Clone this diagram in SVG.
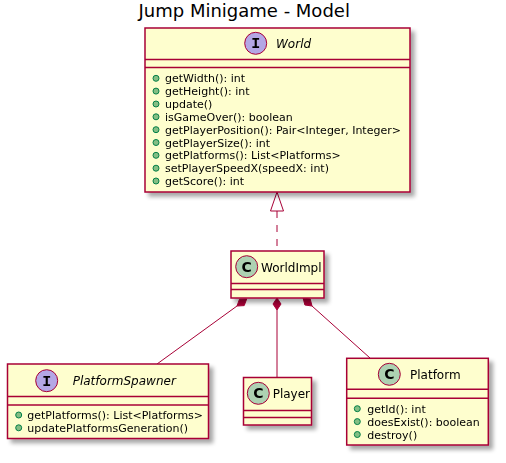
<svg xmlns="http://www.w3.org/2000/svg" width="506" height="463" viewBox="0 0 506 463">
<defs>
<filter id="sh" x="-10%" y="-10%" width="130%" height="130%">
<feGaussianBlur in="SourceAlpha" stdDeviation="2" result="b"/>
<feOffset in="b" dx="4" dy="4" result="o"/>
<feComponentTransfer in="o" result="o2"><feFuncA type="linear" slope="0.35"/></feComponentTransfer>
<feMerge><feMergeNode in="o2"/><feMergeNode in="SourceGraphic"/></feMerge>
</filter>
</defs>
<style>
.box{fill:#FEFECE;stroke:#A80036;stroke-width:1.5}
.sep{stroke:#A80036;stroke-width:1.5}
.ci{fill:#B4A7E5;stroke:#A80036;stroke-width:1}
.cc{fill:#ADD1B2;stroke:#A80036;stroke-width:1}
.glyph{font-family:"DejaVu Sans",sans-serif;font-size:14px;font-weight:bold;fill:#000;text-anchor:middle}
.glyphi{font-family:"Liberation Mono",monospace;font-size:15px;font-weight:bold;fill:#000;text-anchor:middle}
.name{font-family:"DejaVu Sans",sans-serif;font-size:12px;fill:#000}
.iname{font-family:"DejaVu Sans",sans-serif;font-size:12px;font-style:italic;fill:#000}
.m{font-family:"DejaVu Sans",sans-serif;font-size:11px;fill:#000}
.b{fill:#84BE84;stroke:#038048;stroke-width:1}
.ln{stroke:#A80036;stroke-width:1;fill:none}
.dia{fill:#A80036;stroke:#A80036;stroke-width:1}
.tri{fill:#FFFFFF;stroke:#A80036;stroke-width:1}
.title{font-family:"DejaVu Sans",sans-serif;font-size:18px;fill:#000}
</style>
<text class="title" x="138.5" y="17">Jump Minigame - Model</text>
<g id="connectors">
<line class="ln" x1="277" y1="211" x2="277" y2="251" stroke-dasharray="7,7"/>
<polygon class="tri" points="277,192 270.5,211 283.5,211"/>
<line class="ln" x1="237" y1="306" x2="157" y2="364"/>
<polygon class="dia" points="246.7,298.9 239.5,299.2 237,306 244.2,305.6"/>
<line class="ln" x1="277" y1="310" x2="277" y2="377"/>
<polygon class="dia" points="277,298 273,304 277,310 281,304"/>
<line class="ln" x1="312" y1="306" x2="370" y2="358"/>
<polygon class="dia" points="303.1,298 304.9,305 312,306 310.2,299"/>
</g>
<g id="World" filter="url(#sh)">
<rect class="box" x="145" y="28" width="265" height="164"/>
<line class="sep" x1="145" y1="59.5" x2="410" y2="59.5"/>
<line class="sep" x1="145" y1="67.5" x2="410" y2="67.5"/>
<circle class="ci" cx="255.7" cy="43.3" r="11"/>
<text class="glyphi" x="255.7" y="48.3">I</text>
<text class="iname" x="276" y="48.3">World</text>
<circle class="b" cx="156" cy="78.3" r="3"/><text class="m" x="165" y="82.3">getWidth(): int</text>
<circle class="b" cx="156" cy="91.1" r="3"/><text class="m" x="165" y="95.1">getHeight(): int</text>
<circle class="b" cx="156" cy="104" r="3"/><text class="m" x="165" y="108">update()</text>
<circle class="b" cx="156" cy="116.8" r="3"/><text class="m" x="165" y="120.8">isGameOver(): boolean</text>
<circle class="b" cx="156" cy="129.7" r="3"/><text class="m" x="165" y="133.7">getPlayerPosition(): Pair&lt;Integer, Integer&gt;</text>
<circle class="b" cx="156" cy="142.5" r="3"/><text class="m" x="165" y="146.5">getPlayerSize(): int</text>
<circle class="b" cx="156" cy="155.3" r="3"/><text class="m" x="165" y="159.3">getPlatforms(): List&lt;Platforms&gt;</text>
<circle class="b" cx="156" cy="168.2" r="3"/><text class="m" x="165" y="172.2">setPlayerSpeedX(speedX: int)</text>
<circle class="b" cx="156" cy="181" r="3"/><text class="m" x="165" y="185">getScore(): int</text>
</g>
<g id="WorldImpl" filter="url(#sh)">
<rect class="box" x="231" y="251" width="93" height="47"/>
<line class="sep" x1="231" y1="283.5" x2="324" y2="283.5"/>
<line class="sep" x1="231" y1="289.5" x2="324" y2="289.5"/>
<circle class="cc" cx="246.7" cy="266.7" r="11"/>
<text class="glyph" x="246.7" y="271.7">C</text>
<text class="name" x="261" y="272">WorldImpl</text>
</g>
<g id="PlatformSpawner" filter="url(#sh)">
<rect class="box" x="7.5" y="364" width="201" height="74.5"/>
<line class="sep" x1="7.5" y1="396.5" x2="208.5" y2="396.5"/>
<line class="sep" x1="7.5" y1="405" x2="208.5" y2="405"/>
<circle class="ci" cx="46.7" cy="380.7" r="11"/>
<text class="glyphi" x="46.7" y="385.7">I</text>
<text class="iname" x="72.7" y="385">PlatformSpawner</text>
<circle class="b" cx="18.7" cy="415" r="3"/><text class="m" x="27.3" y="419">getPlatforms(): List&lt;Platforms&gt;</text>
<circle class="b" cx="18.7" cy="427.8" r="3"/><text class="m" x="27.3" y="431.8">updatePlatformsGeneration()</text>
</g>
<g id="Player" filter="url(#sh)">
<rect class="box" x="243.5" y="377.5" width="68" height="47.5"/>
<line class="sep" x1="243.5" y1="410.5" x2="311.5" y2="410.5"/>
<line class="sep" x1="243.5" y1="417.5" x2="311.5" y2="417.5"/>
<circle class="cc" cx="258.3" cy="393.3" r="11"/>
<text class="glyph" x="258.3" y="398.3">C</text>
<text class="name" x="272.7" y="398">Player</text>
</g>
<g id="Platform" filter="url(#sh)">
<rect class="box" x="346.7" y="358.3" width="141.6" height="86.7"/>
<line class="sep" x1="346.7" y1="389.3" x2="488.3" y2="389.3"/>
<line class="sep" x1="346.7" y1="398.3" x2="488.3" y2="398.3"/>
<circle class="cc" cx="389.3" cy="374.3" r="11"/>
<text class="glyph" x="389.3" y="379.3">C</text>
<text class="name" x="410" y="379.3">Platform</text>
<circle class="b" cx="357.3" cy="408.7" r="3"/><text class="m" x="367.3" y="412.7">getId(): int</text>
<circle class="b" cx="357.3" cy="421.6" r="3"/><text class="m" x="367.3" y="425.6">doesExist(): boolean</text>
<circle class="b" cx="357.3" cy="434.5" r="3"/><text class="m" x="367.3" y="438.5">destroy()</text>
</g>
</svg>
